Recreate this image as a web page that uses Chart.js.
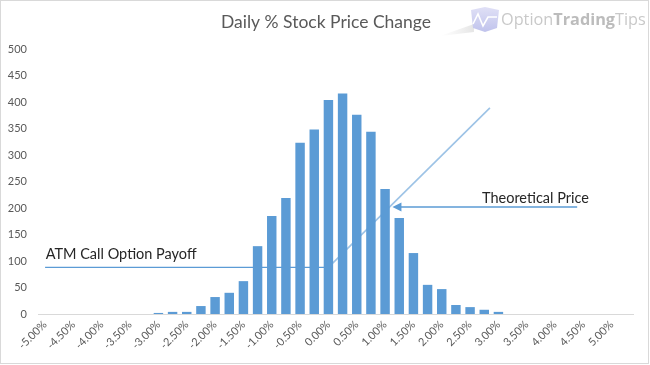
<!DOCTYPE html>
<html><head><meta charset="utf-8">
<script src="https://cdn.jsdelivr.net/npm/chart.js@4/dist/chart.umd.min.js"></script>
<style>html,body{margin:0;padding:0;background:#fff}#wrap{width:650px;height:365px;position:relative}canvas{display:block}</style>
</head><body><div id="wrap"><canvas id="c" width="650" height="365"></canvas></div>
<script>
// ---- data ----
const categories = ["-5.00%","-4.75%","-4.50%","-4.25%","-4.00%","-3.75%","-3.50%","-3.25%","-3.00%","-2.75%",
  "-2.50%","-2.25%","-2.00%","-1.75%","-1.50%","-1.25%","-1.00%","-0.75%","-0.50%","-0.25%",
  "0.00%","0.25%","0.50%","0.75%","1.00%","1.25%","1.50%","1.75%","2.00%","2.25%",
  "2.50%","2.75%","3.00%","3.25%","3.50%","3.75%","4.00%","4.25%","4.50%","4.75%","5.00%","5.25%"];
const counts = [0,0,0,0,0,0,0,0,2,4,
  4,15,32,40,62,128,185,219,323,348,
  404,416,376,344,236,181,115,55,47,17,
  13,8,4,0,0,0,0,0,0,0,0,0];
const xTickLabels = ["-5.00%","-4.50%","-4.00%","-3.50%","-3.00%","-2.50%","-2.00%","-1.50%","-1.00%","-0.50%",
  "0.00%","0.50%","1.00%","1.50%","2.00%","2.50%","3.00%","3.50%","4.00%","4.50%","5.00%"];
const yTicks = [0,50,100,150,200,250,300,350,400,450,500];
// payoff line (x in % change, y in chart units)
const payoffX = [-5.0, 0.0, 2.85];
const payoffY = [88, 88, 389];
// theoretical price arrow: tail -> tip
const arrowX = [4.39, 1.13];
const arrowY = [202, 202];
// annotation texts
const noteText = ["ATM Call Option Payoff", "Theoretical Price"];
const noteX = [-4.99, 2.71];
const noteY = [113, 219];
const titleText = "Daily % Stock Price Change";

const BLUE = '#5b9bd5';
const LIGHT = '#9dc3e6';
const FONT = 'Lato, "Open Sans", sans-serif';
const pct = s => parseFloat(s);

const decor = {
  id: 'decor',
  beforeDraw(chart) {
    const ctx = chart.ctx;
    ctx.save(); ctx.fillStyle = '#fff'; ctx.fillRect(0, 0, chart.width, chart.height); ctx.restore();
  },
  afterDraw(chart) {
    const ctx = chart.ctx;
    const xs = chart.scales.x, ys = chart.scales.y;
    ctx.save();
    // border
    ctx.strokeStyle = '#d9d9d9'; ctx.lineWidth = 1;
    ctx.strokeRect(0.5, 0.5, 648, 363);
    // title
    ctx.fillStyle = '#595959';
    ctx.font = '17.5px ' + FONT;
    ctx.textAlign = 'center'; ctx.textBaseline = 'middle';
    ctx.fillText(titleText, 326, 22);
    // notes
    ctx.fillStyle = '#262626';
    ctx.font = '14.5px ' + FONT;
    ctx.textAlign = 'left';
    for (let i = 0; i < noteText.length; i++) {
      ctx.fillText(noteText[i], xs.getPixelForValue(noteX[i]), ys.getPixelForValue(noteY[i]));
    }
    // arrow head
    const tx = xs.getPixelForValue(arrowX[1]), ty = ys.getPixelForValue(arrowY[1]);
    ctx.fillStyle = BLUE;
    ctx.beginPath();
    ctx.moveTo(tx, ty); ctx.lineTo(tx + 9, ty - 4.5); ctx.lineTo(tx + 9, ty + 4.5); ctx.closePath();
    ctx.fill();
    // logo
    const g = ctx.createLinearGradient(440, 0, 472, 0);
    g.addColorStop(0, 'rgba(235,235,235,0)'); g.addColorStop(1, 'rgba(228,228,228,0.9)');
    ctx.fillStyle = g;
    ctx.beginPath(); ctx.moveTo(440, 36); ctx.lineTo(474, 24); ctx.lineTo(474, 32); ctx.closePath(); ctx.fill();
    const ig = ctx.createLinearGradient(0, 7, 0, 32);
    ig.addColorStop(0, '#e0e0f6'); ig.addColorStop(1, '#c0c3ec');
    ctx.fillStyle = ig;
    ctx.beginPath();
    ctx.moveTo(471, 10); ctx.lineTo(485, 7); ctx.lineTo(499, 10); ctx.lineTo(497, 28); ctx.lineTo(485, 32); ctx.lineTo(473, 28); ctx.closePath();
    ctx.fill();
    ctx.strokeStyle = '#ffffff'; ctx.lineWidth = 1.6;
    ctx.beginPath();
    ctx.moveTo(473, 24); ctx.lineTo(478, 14); ctx.lineTo(483, 26); ctx.lineTo(488, 17); ctx.lineTo(497, 17);
    ctx.stroke();
    ctx.textBaseline = 'alphabetic'; ctx.textAlign = 'left';
    const parts = [['Option', 'normal', '#c9c9c9'], ['Trading', 'bold', '#bcbcbc'], ['Tips', 'normal', '#c9c9c9']];
    let total = 0;
    for (const p of parts) { ctx.font = p[1] + ' 20px "Open Sans", sans-serif'; total += ctx.measureText(p[0]).width; }
    const fs = 20 * 145 / total;
    let x = 501;
    for (const p of parts) {
      ctx.font = p[1] + ' ' + fs + 'px "Open Sans", sans-serif';
      ctx.fillStyle = p[2];
      ctx.fillText(p[0], x, 25);
      x += ctx.measureText(p[0]).width;
    }
    ctx.restore();
  }
};

new Chart(document.getElementById('c'), {
  data: {
    datasets: [
      { type: 'bar', data: counts.map((v, i) => ({ x: pct(categories[i]), y: v })), backgroundColor: BLUE,
        categoryPercentage: 1, barPercentage: 0.667, order: 0 },
      { type: 'line', data: payoffX.map((v, i) => ({ x: v, y: payoffY[i] })),
        borderColor: BLUE, borderWidth: 1.3, pointRadius: 0, order: 1, tension: 0,
        segment: { borderColor: c => (c.p0.parsed.x >= 0 ? LIGHT : BLUE), borderWidth: c => (c.p0.parsed.x >= 0 ? 1.6 : 1.3) } },
      { type: 'line', data: [{ x: arrowX[0], y: arrowY[0] }, { x: arrowX[1] + 0.14, y: arrowY[1] }],
        borderColor: BLUE, borderWidth: 1.5, pointRadius: 0, order: 1 }
    ]
  },
  options: {
    responsive: false, animation: false, devicePixelRatio: 1,
    layout: { padding: { top: 49, right: 17, left: 0, bottom: 0 } },
    plugins: { legend: { display: false }, title: { display: false }, tooltip: { enabled: false } },
    scales: {
      x: {
        type: 'linear', min: -5.125, max: 5.375, offset: false,
        grid: { display: false, drawTicks: false },
        border: { display: true, color: '#d9d9d9', width: 1 },
        afterBuildTicks: s => { s.ticks = xTickLabels.map(l => ({ value: pct(l) })); },
        ticks: { autoSkip: false, minRotation: 45, maxRotation: 45, padding: 4, color: '#595959',
          font: { family: FONT, size: 11 },
          callback: (v) => { const l = xTickLabels.find(t => Math.abs(pct(t) - v) < 1e-9); return l === undefined ? '' : l; } },
        afterFit: s => { s.height = 51; }
      },
      y: {
        min: 0, max: 500,
        grid: { display: false, drawTicks: false },
        border: { display: false },
        afterBuildTicks: s => { s.ticks = yTicks.map(v => ({ value: v })); },
        ticks: { padding: 11, color: '#595959', font: { family: FONT, size: 11 } },
        afterFit: s => { s.width = 38; }
      }
    }
  },
  plugins: [decor]
});
</script>
</body></html>
